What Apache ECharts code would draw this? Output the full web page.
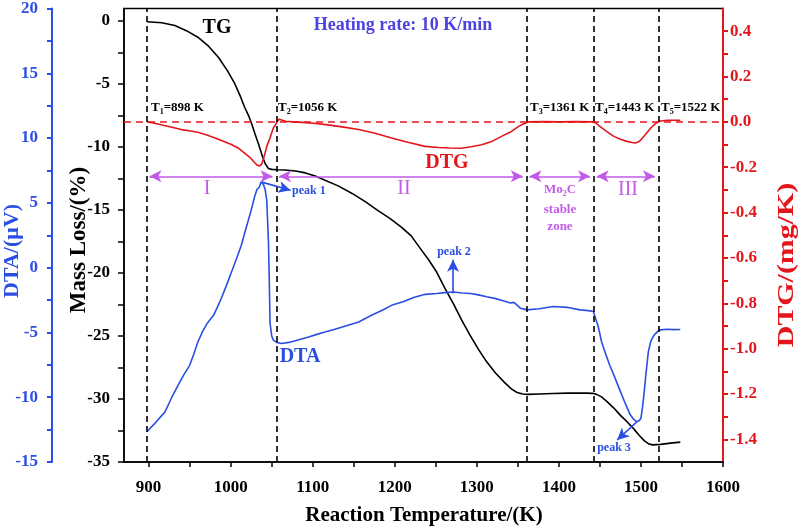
<!DOCTYPE html>
<html>
<head>
<meta charset="utf-8">
<script src="https://cdn.jsdelivr.net/npm/echarts@6/dist/echarts.min.js"></script>
<style>
html,body{margin:0;padding:0;background:#fff;}
#chart{width:798px;height:528px;}
</style>
</head>
<body>
<div id="chart"></div>
<script>
// ---------- data ----------
const tgTemp = [898,916,932,946,960,973,985,996,1005,1012,1017,1022,1026,1030,1034,1038,1042,1046,1050,1057,1066,1079,1091,1103,1115,1131,1148,1164,1180,1194,1208,1220,1231,1241,1251,1261,1272,1282,1292,1302,1312,1323,1333,1342,1349,1356,1362,1376,1393,1411,1434,1441,1446,1452,1459,1467,1475,1483,1491,1498,1504,1509,1514,1524,1536,1548];
const tgMass = [-0.05,-0.13,-0.35,-0.76,-1.28,-1.99,-2.87,-3.93,-4.97,-6.0,-6.84,-7.53,-8.23,-9.03,-9.77,-10.6,-11.3,-11.7,-11.77,-11.8,-11.82,-11.9,-12.05,-12.3,-12.64,-13.08,-13.68,-14.33,-15.07,-15.66,-16.35,-17.05,-18.04,-18.93,-19.92,-21.2,-22.5,-23.8,-24.97,-26.06,-27.05,-27.95,-28.64,-29.19,-29.48,-29.6,-29.63,-29.6,-29.56,-29.53,-29.53,-29.55,-29.63,-29.83,-30.23,-30.72,-31.3,-31.8,-32.35,-32.9,-33.3,-33.55,-33.64,-33.6,-33.5,-33.42];

const dtaTemp = [898,909,920,928,936,943,950,955,960,966,971,975,979,984,989,995,1001,1007,1013,1017,1021,1025,1029,1032,1035,1037,1040,1042,1044,1045,1046,1047,1048,1050,1052,1056,1062,1071,1082,1096,1106,1115,1126,1141,1156,1171,1186,1196,1211,1223,1237,1251,1261,1272,1282,1292,1302,1312,1323,1333,1341,1345,1348,1353,1361,1376,1393,1411,1426,1436,1442,1444,1448,1452,1457,1462,1468,1475,1481,1487,1491,1495,1498,1500,1502,1504,1506,1509,1512,1516,1522,1531,1540,1548];
const dtaSignal = [-12.66,-11.92,-11.13,-10.04,-9.07,-8.26,-7.54,-6.68,-5.74,-4.9,-4.34,-4.01,-3.7,-3.03,-2.3,-1.35,-0.33,0.67,1.73,2.65,3.54,4.44,5.43,6.03,6.22,6.62,6.42,6.03,5.2,3.64,2.12,-0.82,-4.29,-5.28,-5.59,-5.77,-5.85,-5.77,-5.59,-5.33,-5.13,-4.96,-4.78,-4.48,-4.19,-3.7,-3.25,-2.91,-2.61,-2.31,-2.06,-2.0,-1.93,-1.88,-1.96,-2.0,-2.1,-2.25,-2.39,-2.57,-2.73,-2.68,-2.83,-3.13,-3.26,-3.17,-3.0,-3.07,-3.26,-3.32,-3.39,-3.52,-4.56,-5.72,-6.66,-7.53,-8.45,-9.57,-10.5,-11.36,-11.7,-11.9,-11.8,-11.62,-10.73,-9.57,-8.25,-6.5,-5.68,-5.21,-4.82,-4.76,-4.78,-4.77];

const dtgTemp = [898,906,919,931,940,951,960,971,981,991,1001,1009,1017,1023,1028,1032,1035,1038,1041,1044,1048,1052,1055,1057,1059,1061,1064,1067,1076,1087,1101,1116,1136,1156,1176,1196,1216,1237,1253,1267,1281,1293,1306,1319,1330,1341,1351,1357,1363,1381,1401,1421,1441,1445,1450,1458,1467,1475,1483,1489,1493,1497,1500,1504,1508,1512,1517,1522,1532,1548];
const dtgRate = [0,-0.005,-0.016,-0.026,-0.034,-0.04,-0.046,-0.058,-0.071,-0.085,-0.1,-0.115,-0.138,-0.155,-0.175,-0.19,-0.195,-0.185,-0.15,-0.108,-0.07,-0.027,-0.01,0.003,0.012,0.013,0.006,0.003,0.0,-0.002,-0.006,-0.012,-0.022,-0.034,-0.05,-0.071,-0.09,-0.108,-0.113,-0.115,-0.116,-0.11,-0.101,-0.085,-0.064,-0.045,-0.02,-0.008,0,0.001,0,0.001,0,-0.005,-0.02,-0.042,-0.064,-0.077,-0.086,-0.091,-0.093,-0.088,-0.079,-0.062,-0.045,-0.027,-0.01,0.003,0.007,0.007];

// stage boundary temperatures (T1..T5)
const boundaryTemps = [898,1056,1361,1443,1522];
const boundaryNames = ['1','2','3','4','5'];

// tick / label values
const xTickValues = [900,950,1000,1050,1100,1150,1200,1250,1300,1350,1400,1450,1500,1550,1600];
const xLabelValues = [900,1000,1100,1200,1300,1400,1500,1600];
const massTickValues = [-35,-32.5,-30,-27.5,-25,-22.5,-20,-17.5,-15,-12.5,-10,-7.5,-5,-2.5,0];
const massLabelValues = [-35,-30,-25,-20,-15,-10,-5,0];
const dtaTickValues = [-15,-12.5,-10,-7.5,-5,-2.5,0,2.5,5,7.5,10,12.5,15,17.5,20];
const dtaLabelValues = [-15,-10,-5,0,5,10,15,20];
const dtgTickValues = [-1.4,-1.3,-1.2,-1.1,-1.0,-0.9,-0.8,-0.7,-0.6,-0.5,-0.4,-0.3,-0.2,-0.1,0,0.1,0.2,0.3,0.4];
const dtgLabelValues = [-1.4,-1.2,-1.0,-0.8,-0.6,-0.4,-0.2,0,0.2,0.4];

// annotation arrows (in data coordinates)
const stageArrowLevel = -0.24; // DTG units
const peakArrows = [
  [[1038, 6.6], [1073, 5.97]],
  [[1271, -2.0], [1271, 0.6]],
  [[1495, -11.9], [1471, -13.3]]
];

// ---------- styling ----------
const SERIF = '"Liberation Serif","Times New Roman",serif';
const BLUE = '#2b4ee3';
const RED = '#e3161c';
const MAGENTA = '#c25ae8';

const chart = echarts.init(document.getElementById('chart'), null, {renderer:'canvas'});

function pairs(xs, ys){ return xs.map((x,i)=>[x, ys[i]]); }

const stageLines = [];
for (let i = 0; i < boundaryTemps.length - 1; i++) {
  stageLines.push([
    {coord:[boundaryTemps[i] + 3, stageArrowLevel]},
    {coord:[boundaryTemps[i+1] - 5, stageArrowLevel]}
  ]);
}

const tickLabelFont = {fontFamily: SERIF, fontWeight:'bold', fontSize:17};
const plain = v => String(Math.round(v*100)/100);

const option = {
  animation:false,
  grid:{left:124, right:75, top:8, bottom:66, show:true, borderColor:'#000', borderWidth:1.5},
  xAxis:{
    type:'value', min:870, max:1600,
    axisLine:{show:true, onZero:false, lineStyle:{color:'#000', width:1.5}},
    axisTick:{show:true, customValues:xTickValues, length:5, lineStyle:{color:'#000', width:1.5}},
    axisLabel:Object.assign({customValues:xLabelValues, margin:17, color:'#000', formatter:plain}, tickLabelFont),
    splitLine:{show:false}
  },
  yAxis:[
    {
      type:'value', position:'left', min:-35, max:1,
      axisLine:{show:true, onZero:false, lineStyle:{color:'#000', width:1.5}},
      axisTick:{show:true, customValues:massTickValues, length:6, lineStyle:{color:'#000', width:1.5}},
      axisLabel:Object.assign({customValues:massLabelValues, margin:14, color:'#000', formatter:plain}, tickLabelFont),
      splitLine:{show:false}
    },
    {
      type:'value', position:'left', offset:72, min:-15, max:20,
      axisLine:{show:true, onZero:false, lineStyle:{color:BLUE, width:2}},
      axisTick:{show:true, customValues:dtaTickValues, length:5, lineStyle:{color:BLUE, width:2}},
      axisLabel:Object.assign({customValues:dtaLabelValues, margin:14, color:BLUE, formatter:plain}, tickLabelFont),
      splitLine:{show:false}
    },
    {
      type:'value', position:'right', min:-1.5, max:0.5,
      axisLine:{show:true, onZero:false, lineStyle:{color:RED, width:2}},
      axisTick:{show:true, customValues:dtgTickValues, length:5, lineStyle:{color:RED, width:2}},
      axisLabel:Object.assign({customValues:dtgLabelValues, margin:7, color:RED,
        formatter:v=>(Math.abs(v)<1e-9?0:v).toFixed(1)}, tickLabelFont),
      splitLine:{show:false}
    }
  ],
  series:[
    {
      name:'TG', type:'line', yAxisIndex:0, data:pairs(tgTemp, tgMass),
      showSymbol:false, symbol:'none', lineStyle:{color:'#000', width:1.6},
      markLine:{silent:true, symbol:'none', label:{show:false},
        lineStyle:{color:'#000', type:[6,4], width:1.6},
        data:boundaryTemps.map(t=>({xAxis:t}))}
    },
    {
      name:'DTG', type:'line', yAxisIndex:2, data:pairs(dtgTemp, dtgRate),
      showSymbol:false, symbol:'none', lineStyle:{color:RED, width:1.6},
      markLine:{silent:true, symbol:'none', label:{show:false},
        lineStyle:{color:RED, type:[7,5], width:1.6},
        data:[{yAxis:0}]}
    },
    {
      name:'stages', type:'line', yAxisIndex:2, data:[],
      markLine:{silent:true, symbol:['arrow','arrow'], symbolSize:[9,12], label:{show:false},
        lineStyle:{color:MAGENTA, type:'solid', width:1.6},
        data:stageLines}
    },
    {
      name:'DTA', type:'line', yAxisIndex:1, data:pairs(dtaTemp, dtaSignal),
      showSymbol:false, symbol:'none', lineStyle:{color:BLUE, width:1.6},
      markLine:{silent:true, symbol:['none','arrow'], symbolSize:[9,12], label:{show:false},
        lineStyle:{color:BLUE, type:'solid', width:1.6},
        data:peakArrows.map(a=>[{coord:a[0]},{coord:a[1]}])}
    }
  ],
  graphic:[]
};

function txt(x, y, text, size, color, weight, extra){
  return Object.assign({type:'text', x:x, y:y, silent:true, z:100,
    style:{text:text, fontFamily:SERIF, fontSize:size, fontWeight:weight||'bold', fill:color,
      align:'center', verticalAlign:'middle'}}, extra||{});
}
const g = option.graphic;
// axis titles
g.push(txt(424, 516, 'Reaction Temperature/(K)', 21, '#000'));
g.push(txt(12, 251, 'DTA/(\u03bcV)', 22, BLUE, 'bold', {rotation:Math.PI/2}));
g.push(txt(79, 240, 'Mass Loss/(%)', 23, '#000', 'bold', {rotation:Math.PI/2}));
g.push(txt(787, 265, 'DTG/(mg/K)', 23, RED, 'bold', {rotation:Math.PI/2, scaleX:1.3}));
// in-plot labels
g.push(txt(217, 28, 'TG', 20, '#000'));
g.push(txt(403, 25, 'Heating rate: 10 K/min', 18, '#4c42e0'));
g.push(txt(447, 163, 'DTG', 20, RED));
g.push(txt(300, 357, 'DTA', 20, BLUE));
g.push(txt(207, 189, 'I', 20, MAGENTA, 'normal'));
g.push(txt(404, 189, 'II', 20, MAGENTA, 'normal'));
g.push(txt(628, 190, 'III', 20, MAGENTA, 'normal'));
g.push({type:'text', x:560, y:190, silent:true, z:100, style:{
  text:'{a|Mo}{s|2}{a|C}', align:'center', verticalAlign:'middle', fill:MAGENTA,
  rich:{a:{fontFamily:SERIF, fontWeight:'bold', fontSize:13, fill:MAGENTA, lineHeight:14},
        s:{fontFamily:SERIF, fontWeight:'bold', fontSize:8, fill:MAGENTA, lineHeight:14, padding:[7,0,0,0]}}}});
g.push(txt(560, 210, 'stable', 13, MAGENTA));
g.push(txt(560, 227, 'zone', 13, MAGENTA));
g.push({type:'text', x:292, y:191, silent:true, z:100, style:{text:'peak 1', fontFamily:SERIF, fontSize:12, fontWeight:'bold', fill:BLUE, align:'left', verticalAlign:'middle'}});
g.push(txt(454, 252, 'peak 2', 12, BLUE));
g.push(txt(614, 448, 'peak 3', 12, BLUE));
// T labels
const tLabelX = [151, 278, 530, 595, 661];
boundaryTemps.forEach((t,i)=>{
  g.push({type:'text', x:tLabelX[i], y:108, silent:true, z:100, style:{
    text:'{a|T}{s|' + boundaryNames[i] + '}{a|=' + t + ' K}', align:'left', verticalAlign:'middle', fill:'#000',
    rich:{a:{fontFamily:SERIF, fontWeight:'bold', fontSize:13, fill:'#000', lineHeight:16},
          s:{fontFamily:SERIF, fontWeight:'bold', fontSize:8, fill:'#000', lineHeight:16, padding:[8,0,0,0]}}}});
});

chart.setOption(option);
</script>
</body>
</html>
